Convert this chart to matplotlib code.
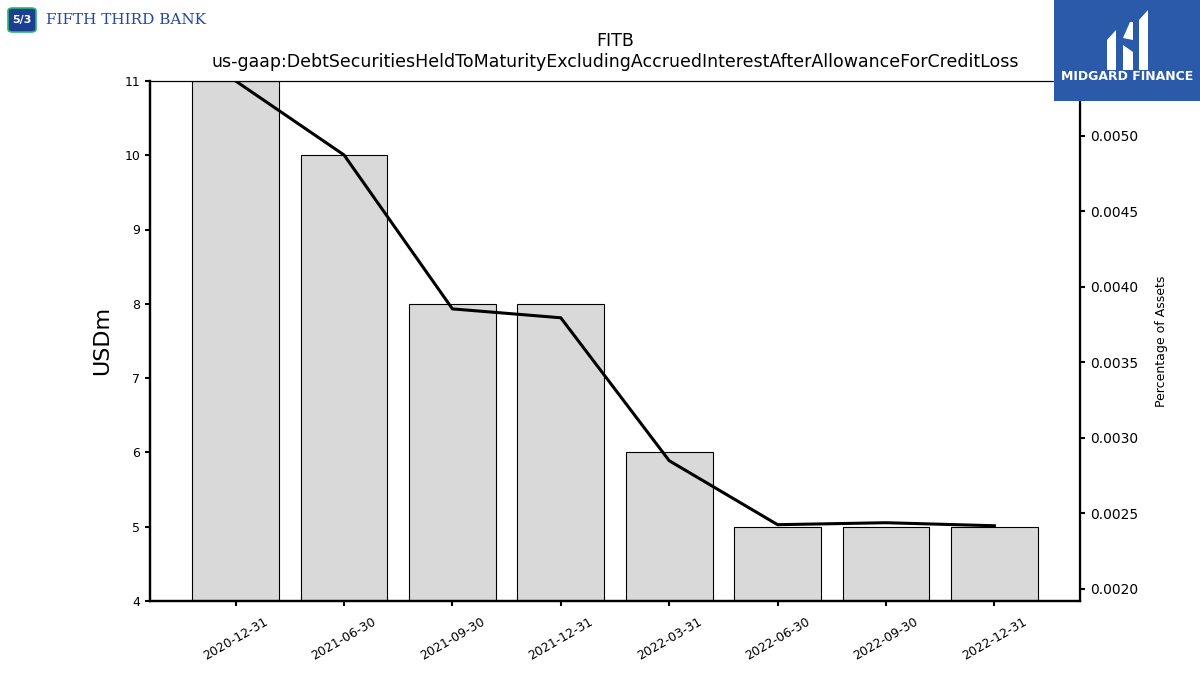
import matplotlib
matplotlib.use("Agg")
import matplotlib.pyplot as plt
from matplotlib.patches import Rectangle, FancyBboxPatch, Polygon

dates = ["2020-12-31", "2021-06-30", "2021-09-30", "2021-12-31",
         "2022-03-31", "2022-06-30", "2022-09-30", "2022-12-31"]
usdm = [11, 10, 8, 8, 6, 5, 5, 5]
pct_assets = [0.005364, 0.004874, 0.003854, 0.003795,
              0.002848, 0.002424, 0.002437, 0.002417]

fig = plt.figure(figsize=(12, 6.75), dpi=100)
ax = fig.add_subplot(111)
fig.subplots_adjust(left=0.125, right=0.9, top=0.88, bottom=0.11)

x = list(range(len(dates)))
ax.bar(x, usdm, width=0.8, color="#d9d9d9", edgecolor="black", linewidth=0.8)
ax.set_ylim(4, 11)
ax.set_xticks(x)
ax.set_xticklabels(dates, rotation=30, fontsize=9)
ax.tick_params(axis="y", labelsize=9)
ax.tick_params(axis="x", pad=7)
ax.set_ylabel("USDm", fontsize=16, labelpad=9)
for s in ["left", "bottom"]:
    ax.spines[s].set_linewidth(1.6)
ax.tick_params(width=1.5)

ax2 = ax.twinx()
ax2.plot(x, pct_assets, color="black", linewidth=2.2)
ax2.set_ylim(0.00192, 0.005364)
ax2.set_ylabel("Percentage of Assets", fontsize=9, labelpad=12)
ax2.tick_params(axis="y", labelsize=10, width=1.5)
ax2.spines["right"].set_linewidth(1.6)
ax2.spines["left"].set_linewidth(1.6)
ax2.spines["bottom"].set_linewidth(1.6)

ax.set_title("FITB\nus-gaap:DebtSecuritiesHeldToMaturityExcludingAccruedInterestAfterAllowanceForCreditLoss",
             fontsize=12.5, pad=10)

# Fifth Third Bank logo (top-left)
W, H = 1200, 675
def fx(px): return px / W
def fy(py): return 1 - py / H
fig.patches.append(FancyBboxPatch((fx(8), fy(32)), fx(28), 24 / H,
                                  boxstyle="round,pad=0,rounding_size=0.004",
                                  transform=fig.transFigure, facecolor="#1d3f8f",
                                  edgecolor="#2bb673", linewidth=1.2))
fig.text(fx(22), fy(20), "5/3", color="white", fontsize=8, fontweight="bold",
         ha="center", va="center")
fig.text(fx(46), fy(20), "FIFTH THIRD BANK", color="#2346a0", fontsize=11,
         ha="left", va="center", family="DejaVu Serif")

# Midgard Finance logo (top-right)
fig.patches.append(Rectangle((fx(1054), fy(101)), fx(146), 101 / H,
                             transform=fig.transFigure, facecolor="#2c5aaa",
                             edgecolor="none", zorder=5))
for poly in [
    [(1107, 70), (1107, 40), (1116, 30), (1116, 70)],
    [(1123, 70), (1123, 45), (1133, 52), (1133, 70)],
    [(1123, 38), (1130, 22), (1133, 22), (1133, 40)],
    [(1139, 70), (1139, 20), (1148, 10), (1148, 70)],
]:
    fig.patches.append(Polygon([(fx(a), fy(b)) for a, b in poly], closed=True,
                               transform=fig.transFigure, facecolor="white",
                               edgecolor="none", zorder=6))
fig.text(fx(1127), fy(77), "MIDGARD FINANCE", color="white", fontsize=9,
         fontweight="bold", ha="center", va="center", zorder=7)

fig.savefig("out.png", dpi=100)
